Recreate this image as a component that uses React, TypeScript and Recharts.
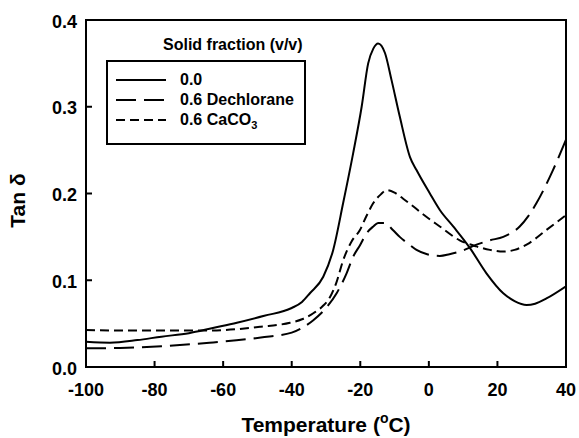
import React from 'react';
import { LineChart, Line, XAxis, YAxis, ReferenceArea, Legend } from 'recharts';

const FONT = '"Liberation Sans", Arial, Helvetica, sans-serif';

// temperature (°C) and tan delta, one pair of arrays per curve
const tempNeat = [-100, -93, -85, -78, -70, -63, -56, -48, -40, -37, -34.7, -30.8, -27.9, -25, -22.1, -19.6, -17.7, -16.2, -14.8, -12.8, -10.9, -8.5, -5.5, -3.6, 0.3, 3.2, 7.1, 12, 16.8, 21.7, 25, 28.5, 31, 34.3, 40];
const tanNeat = [0.029, 0.028, 0.031, 0.035, 0.039, 0.045, 0.051, 0.059, 0.068, 0.075, 0.085, 0.104, 0.135, 0.189, 0.246, 0.300, 0.350, 0.367, 0.373, 0.362, 0.331, 0.289, 0.242, 0.227, 0.200, 0.181, 0.162, 0.137, 0.108, 0.085, 0.076, 0.0715, 0.073, 0.079, 0.093];

const tempDech = [-100, -90, -78, -64, -49, -40, -37, -33.7, -30, -26.9, -24, -22.1, -20, -18.2, -16.2, -14.8, -12.8, -10.5, -8.5, -6, -3.6, -0.5, 3.2, 6, 9, 13.9, 17.8, 21.7, 26.5, 29, 31.4, 36.2, 40];
const tanDech = [0.0215, 0.022, 0.024, 0.028, 0.034, 0.0396, 0.045, 0.054, 0.068, 0.085, 0.108, 0.127, 0.141, 0.154, 0.162, 0.166, 0.166, 0.158, 0.150, 0.142, 0.135, 0.130, 0.128, 0.130, 0.133, 0.141, 0.146, 0.150, 0.162, 0.174, 0.189, 0.227, 0.262];

const tempCaco = [-100, -90, -78, -64, -49, -40.5, -37, -33.7, -31, -28.9, -27, -25, -22.5, -20.1, -18.2, -16.2, -14, -12.3, -10, -7.5, -4.5, -1.7, 3.2, 9, 13.9, 17.8, 21.7, 25, 28.5, 34.3, 40];
const tanCaco = [0.0427, 0.042, 0.042, 0.042, 0.0465, 0.051, 0.055, 0.062, 0.070, 0.080, 0.097, 0.123, 0.145, 0.158, 0.174, 0.189, 0.199, 0.204, 0.201, 0.194, 0.185, 0.176, 0.162, 0.146, 0.139, 0.135, 0.133, 0.135, 0.141, 0.158, 0.175];

const xTicks = [-100, -80, -60, -40, -20, 0, 20, 40];
const yTicks = [0, 0.1, 0.2, 0.3, 0.4];

const toPoints = (ts: number[], vs: number[]) => ts.map((t, i) => ({ t, v: vs[i] }));

const series = [
  { name: '0.0', data: toPoints(tempNeat, tanNeat), dash: undefined },
  { name: '0.6 Dechlorane', data: toPoints(tempDech, tanDech), dash: '20 8' },
  { name: '0.6 CaCO3', data: toPoints(tempCaco, tanCaco), dash: '9 5' },
];

const X_MARGIN = 22;
const Y_MARGIN = 9;
const TICK_LEN = 6;

// ticks point into the plot, so draw the mark together with the label
const XTick = (props: any) => {
  const { x, y, payload } = props;
  const axisY = y - X_MARGIN;
  return (
    <g>
      <line x1={x} y1={axisY} x2={x} y2={axisY - TICK_LEN} stroke="#000" strokeWidth={2} />
      <text x={x} y={y + 7} textAnchor="middle" fill="#000"
        style={{ fontSize: 18, fontWeight: 'bold', fontFamily: FONT }}>{payload.value}</text>
    </g>
  );
};

const YTick = (props: any) => {
  const { x, y, payload } = props;
  const axisX = x + Y_MARGIN;
  return (
    <g>
      <line x1={axisX} y1={y} x2={axisX + TICK_LEN} y2={y} stroke="#000" strokeWidth={2} />
      <text x={x} y={y + 7.5} textAnchor="end" fill="#000"
        style={{ fontSize: 18, fontWeight: 'bold', fontFamily: FONT }}>{Number(payload.value).toFixed(1)}</text>
    </g>
  );
};

const XTitle = (props: any) => {
  const vb = props.viewBox || { x: 86, y: 367, width: 480 };
  return (
    <text x={vb.x + vb.width / 2} y={vb.y + 65} textAnchor="middle" fill="#000"
      style={{ fontSize: 21, fontWeight: 'bold', fontFamily: FONT }}>
      Temperature (<tspan dy={-9} fontSize={14}>o</tspan><tspan dy={9}>C)</tspan>
    </text>
  );
};

const YTitle = (props: any) => {
  const vb = props.viewBox || { x: 26, y: 20, height: 347 };
  const cy = vb.y + vb.height / 2 + 7;
  return (
    <text x={0} y={0} transform={`translate(25, ${cy}) rotate(-90)`} textAnchor="middle" fill="#000"
      style={{ fontSize: 21, fontWeight: 'bold', fontFamily: FONT }}>
      Tan δ
    </text>
  );
};

const renderLegend = () => (
  <div style={{ fontFamily: FONT, fontWeight: 'bold', fontSize: 16, color: '#000' }}>
    <div style={{ height: 18, lineHeight: '18px', paddingLeft: 57, whiteSpace: 'nowrap' }}>Solid fraction (v/v)</div>
    <div style={{ marginTop: 6, width: 200, height: 85, boxSizing: 'border-box', border: '2px solid #000', padding: '8px 0 0 8px' }}>
      {series.map((s) => (
        <div key={s.name} style={{ height: 20, display: 'flex', alignItems: 'center', whiteSpace: 'nowrap' }}>
          <svg width={50} height={4} style={{ marginRight: 14 }}>
            <line x1={0} y1={2} x2={50} y2={2} stroke="#000" strokeWidth={2} strokeDasharray={s.dash} />
          </svg>
          {s.name === '0.6 CaCO3' ? (
            <span>0.6 CaCO<sub style={{ fontSize: 11, lineHeight: 0, verticalAlign: -4 }}>3</sub></span>
          ) : (
            <span>{s.name}</span>
          )}
        </div>
      ))}
    </div>
  </div>
);

export default function App() {
  return (
    <div style={{ position: 'absolute', left: 0, top: 0, width: 579, height: 438, background: '#fff' }}>
      <LineChart width={579} height={438} margin={{ top: 20, right: 13, left: 26, bottom: 11 }}>
        <XAxis
          dataKey="t"
          type="number"
          domain={[-100, 40]}
          ticks={xTicks}
          allowDataOverflow
          height={60}
          tick={<XTick />}
          tickSize={0}
          tickMargin={X_MARGIN}
          axisLine={{ stroke: '#000', strokeWidth: 2 }}
          tickLine={false}
          label={{ content: XTitle }}
        />
        <YAxis
          type="number"
          domain={[0, 0.4]}
          ticks={yTicks}
          width={60}
          tick={<YTick />}
          tickSize={0}
          tickMargin={Y_MARGIN}
          axisLine={{ stroke: '#000', strokeWidth: 2 }}
          tickLine={false}
          label={{ content: YTitle }}
        />
        <ReferenceArea x1={-100} x2={40} y1={0} y2={0.4} fill="none" stroke="#000" strokeWidth={2} />
        {series.map((s) => (
          <Line
            key={s.name}
            data={s.data}
            dataKey="v"
            name={s.name}
            type="monotone"
            stroke="#000"
            strokeWidth={2}
            strokeDasharray={s.dash}
            dot={false}
            activeDot={false}
            isAnimationActive={false}
          />
        ))}
        <Legend
          layout="horizontal"
          verticalAlign="middle"
          align="center"
          content={renderLegend}
          wrapperStyle={{ left: 106, top: 36, width: 'auto', height: 'auto' }}
        />
      </LineChart>
    </div>
  );
}
